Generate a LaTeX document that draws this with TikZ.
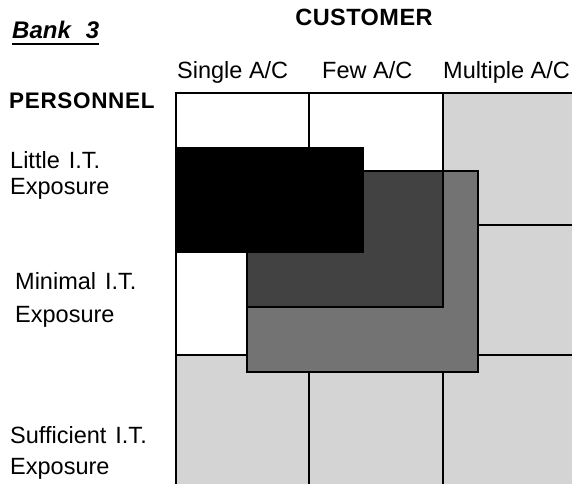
\documentclass[tikz,border=0pt]{standalone}
\usepackage{fontspec}
\setmainfont{Liberation Sans}
\begin{document}
\begin{tikzpicture}[x=1pt,y=-1pt,
  lbl/.style={anchor=base west,inner sep=0pt,font=\fontsize{23.5}{27}\selectfont},
  bold lbl/.style={anchor=base west,inner sep=0pt,font=\fontsize{22.5}{26}\selectfont\bfseries\addfontfeature{LetterSpace=3}},
  gridline/.style={line width=2.6pt,draw=black},
  lightcell/.style={fill=black!17},
  boxdark/.style={fill=black!74,draw=black,line width=2.4pt},
  boxmed/.style={fill=black!55,draw=black,line width=2.4pt},
  boxblack/.style={fill=black}]
\useasboundingbox (0,0) rectangle (572,484);
% light stippled cells
\fill[lightcell] (443,93) rectangle (572,484);
\fill[lightcell] (176,355) rectangle (572,484);
% grid
\draw[gridline] (176,484) -- (176,93) -- (572,93);
\draw[gridline] (309,93) -- (309,484);
\draw[gridline] (443,93) -- (443,484);
\draw[gridline] (176,225) -- (572,225);
\draw[gridline] (176,355) -- (572,355);
% overlapping boxes
\filldraw[boxmed] (247,171) rectangle (478,372);
\filldraw[boxdark] (247,171) rectangle (443,307);
\fill[boxblack] (176,147) rectangle (364,253);
% title texts
\node[anchor=base west,inner sep=0pt,font=\fontsize{24}{28}\selectfont\bfseries\itshape] (bank) at (12,39) {Bank\hspace{15pt}3};
\draw[line width=2.4pt] ([yshift=-5pt]bank.base west) -- ([yshift=-5pt]bank.base east);
\node[anchor=base,inner sep=0pt,font=\fontsize{23.5}{28}\selectfont\bfseries\addfontfeature{LetterSpace=2}] (cust) at (364,26) {CUSTOMER};
% column headers
\node[lbl] (c1) at (177,79) {Single A/C};
\node[lbl] (c2) at (322,79) {Few A/C};
\node[lbl] (c3) at (443,79) {Multiple A/C};
% row headers
\node[bold lbl] (pers) at (9,108) {PERSONNEL};
\node[lbl] (r1a) at (10,168) {Little\hspace{9pt}I.T.};
\node[lbl] (r1b) at (10,194) {Exposure};
\node[lbl] (r2a) at (15,289) {Minimal\hspace{9pt}I.T.};
\node[lbl] (r2b) at (15,322) {Exposure};
\node[lbl] (r3a) at (10,443) {Sufficient\hspace{9pt}I.T.};
\node[lbl] (r3b) at (10,474) {Exposure};
\end{tikzpicture}
\end{document}
